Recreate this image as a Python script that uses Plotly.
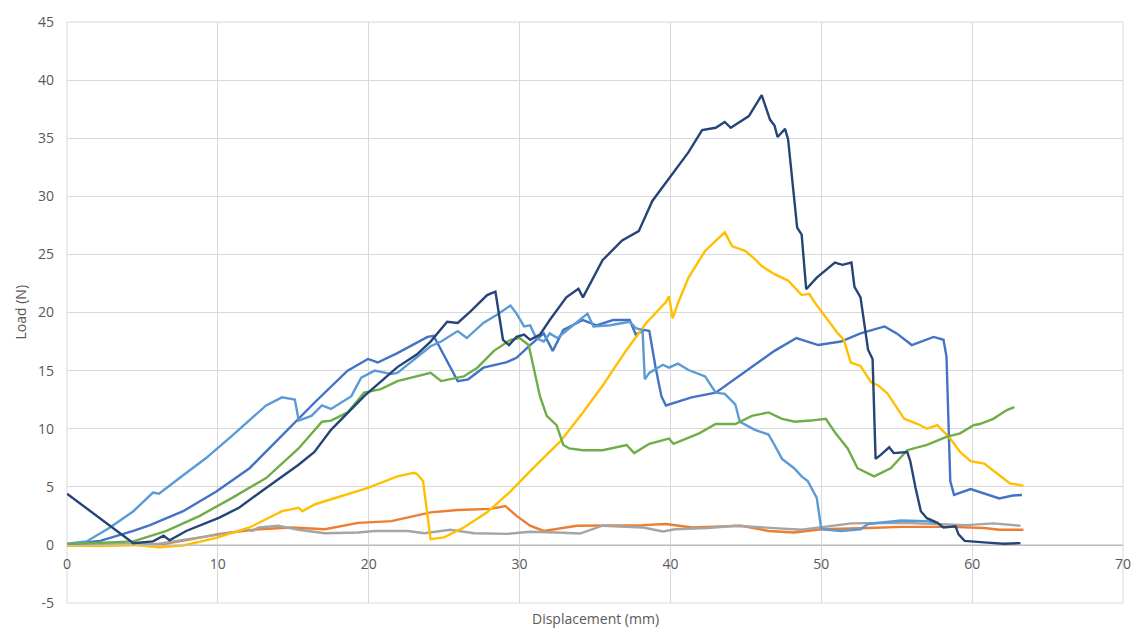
import plotly.graph_objects as go

# Load-displacement curves for seven specimens (displacement in mm, load in N)
disp_s1 = [0, 2.2, 4.4, 5.5, 7.7, 9.9, 12.1, 14.25, 16.45, 18.6, 19.95, 20.6, 21.9, 23.9, 24.3,
           25.9, 26.6, 27.6, 29.1, 29.8, 30.7, 31.6, 32.2, 32.9, 34.2, 35.1, 36.2, 37.3, 37.7,
           38.3, 38.6, 39.0, 39.4, 39.7, 41.4, 43.0, 45.2, 46.9, 48.35, 49.8, 51.3, 52.6, 54.2,
           55.0, 56.0, 57.45, 58.1, 58.3, 58.55, 58.8, 59.9, 61.0, 61.8, 62.7, 63.3]
load_s1 = [0.05, 0.35, 1.2, 1.7, 2.9, 4.6, 6.6, 9.4, 12.3, 15.0, 16.0, 15.7, 16.5, 17.9, 18.0,
           14.1, 14.25, 15.25, 15.7, 16.1, 17.2, 18.2, 16.7, 18.5, 19.35, 18.9, 19.35, 19.35, 18.1,
           18.5, 18.4, 15.4, 12.8, 12.0, 12.7, 13.1, 15.1, 16.7, 17.8, 17.2, 17.5, 18.2, 18.8,
           18.2, 17.2, 17.9, 17.65, 16.2, 5.5, 4.3, 4.8, 4.3, 4.0, 4.25, 4.3]

disp_s2 = [0, 6.1, 8.3, 10.1, 12.7, 14.9, 17.1, 19.3, 21.5, 23.2, 24.1, 25.9, 28.1, 29.05, 29.8,
           30.7, 31.6, 33.8, 36.0, 38.2, 39.7, 41.45, 44.7, 46.5, 48.2, 50.0, 53.1, 55.3, 58.55,
           60.8, 61.8, 63.4]
load_s2 = [-0.05, 0, 0.5, 0.95, 1.35, 1.5, 1.35, 1.9, 2.05, 2.5, 2.8, 3.0, 3.1, 3.35, 2.5,
           1.65, 1.2, 1.65, 1.65, 1.7, 1.8, 1.5, 1.65, 1.2, 1.07, 1.35, 1.45, 1.55, 1.55,
           1.45, 1.3, 1.3]

disp_s3 = [0, 6.1, 8.8, 11.0, 11.85, 12.3, 12.7, 14.0, 15.35, 17.1, 19.3, 20.4, 22.6, 23.7, 25.4,
           27.0, 29.2, 30.7, 32.45, 34.0, 35.5, 38.2, 39.5, 40.3, 42.5, 44.3, 48.7, 52.0, 55.3,
           59.6, 61.4, 63.2]
load_s3 = [0, 0.1, 0.65, 1.07, 1.35, 1.2, 1.5, 1.65, 1.3, 1.0, 1.07, 1.2, 1.2, 1.0, 1.3,
           1.0, 0.95, 1.13, 1.07, 0.98, 1.65, 1.5, 1.15, 1.35, 1.45, 1.65, 1.3, 1.85, 1.9,
           1.7, 1.85, 1.65]

disp_s4 = [0, 2.2, 4.4, 6.1, 7.7, 9.9, 12.1, 14.25, 15.35, 15.6, 16.45, 18.6, 19.95, 21.9, 23.0,
           23.2, 23.6, 24.1, 25.0, 26.3, 27.85, 29.4, 30.9, 32.7, 34.2, 35.5, 37.1, 38.4, 39.7,
           39.9, 40.15, 40.5, 41.2, 42.3, 43.0, 43.6, 44.1, 44.95, 45.6, 46.05, 46.9, 47.8, 48.7,
           49.2, 49.6, 51.1, 51.5, 51.95, 52.6, 53.3, 53.8, 54.4, 55.5, 56.4, 57.0, 57.7, 58.55,
           59.2, 59.9, 60.8, 61.8, 62.5, 63.4]
load_s4 = [-0.05, -0.1, 0, -0.2, -0.05, 0.6, 1.5, 2.9, 3.2, 2.9, 3.5, 4.35, 4.9, 5.9, 6.2,
           6.1, 5.5, 0.5, 0.65, 1.5, 2.8, 4.6, 6.6, 8.9, 11.4, 13.7, 16.8, 19.1, 20.9,
           21.4, 19.5, 20.8, 23.0, 25.3, 26.2, 26.9, 25.7, 25.3, 24.6, 24.0, 23.3, 22.75, 21.5,
           21.6, 20.8, 18.2, 17.65, 15.7, 15.4, 14.0, 13.7, 13.0, 10.85, 10.4, 10.0, 10.3, 9.15,
           8.0, 7.2, 7.0, 6.0, 5.3, 5.1]

disp_s5 = [0, 1.3, 2.85, 4.4, 5.7, 6.1, 7.7, 9.2, 10.95, 12.3, 13.2, 14.25, 15.1, 15.25, 15.35,
           16.2, 16.9, 17.5, 18.85, 19.5, 20.4, 21.5, 21.9, 24.1, 24.8, 25.9, 26.5, 27.6, 28.5,
           29.4, 29.8, 30.3, 30.7, 31.1, 31.6, 32.0, 32.5, 33.55, 34.5, 34.9, 36.0, 37.3, 37.7,
           38.15, 38.3, 38.6, 39.5, 39.9, 40.5, 41.2, 42.3, 43.0, 43.6, 44.3, 44.6, 45.6, 46.5,
           46.9, 47.4, 48.2, 48.7, 49.1, 49.7, 50.0, 51.3, 52.6, 53.1, 55.3, 57.0, 57.6]
load_s5 = [0.1, 0.3, 1.5, 2.9, 4.5, 4.4, 6.0, 7.45, 9.4, 11.0, 12.0, 12.7, 12.5, 11.5, 10.7,
           11.1, 12.0, 11.7, 12.8, 14.4, 15.0, 14.7, 14.8, 17.1, 17.5, 18.4, 17.8, 19.1, 19.8,
           20.6, 19.9, 18.8, 18.9, 17.8, 17.5, 18.2, 17.8, 18.9, 19.9, 18.8, 18.9, 19.2, 18.65,
           18.5, 14.25, 14.8, 15.5, 15.25, 15.6, 15.05, 14.5, 13.1, 13.0, 12.1, 10.6, 9.9, 9.5,
           8.6, 7.4, 6.6, 5.9, 5.5, 4.05, 1.35, 1.2, 1.35, 1.8, 2.1, 2.05, 1.9]

disp_s6 = [0, 4.4, 6.6, 8.8, 10.95, 13.2, 15.35, 16.9, 17.5, 18.6, 19.7, 20.8, 21.9, 23.9, 24.1,
           24.8, 26.3, 27.2, 28.3, 29.4, 30.0, 30.6, 30.9, 31.35, 31.8, 32.45, 32.9, 33.3, 34.2,
           35.5, 37.1, 37.6, 38.6, 39.9, 40.2, 41.9, 43.0, 44.3, 45.4, 46.5, 47.4, 48.25, 49.3,
           50.3, 50.9, 51.75, 52.4, 53.5, 54.6, 55.7, 57.0, 58.3, 59.2, 60.1, 60.5, 61.4, 62.3, 62.8]
load_s6 = [0.05, 0.3, 1.2, 2.5, 4.05, 5.75, 8.3, 10.6, 10.7, 11.4, 13.1, 13.4, 14.1, 14.7, 14.8,
           14.1, 14.5, 15.25, 16.7, 17.65, 17.8, 17.2, 15.4, 12.8, 11.1, 10.3, 8.6, 8.3, 8.15,
           8.15, 8.6, 7.9, 8.7, 9.15, 8.7, 9.6, 10.4, 10.4, 11.1, 11.4, 10.85, 10.6, 10.7,
           10.85, 9.7, 8.3, 6.6, 5.9, 6.6, 8.15, 8.6, 9.3, 9.6, 10.3, 10.4, 10.85, 11.6, 11.85]

disp_s7 = [0, 4.4, 5.7, 6.4, 6.8, 7.9, 10.1, 11.4, 13.2, 15.35, 16.4, 17.5, 19.7, 21.9, 23.2,
           24.1, 25.2, 25.9, 26.75, 27.85, 28.4, 28.9, 29.3, 29.8, 30.3, 30.7, 31.35, 32.0, 33.1,
           33.9, 34.2, 35.5, 36.8, 37.9, 38.8, 39.9, 41.2, 42.1, 43.0, 43.6, 44.0, 45.2, 46.05,
           46.6, 46.9, 47.1, 47.6, 47.8, 48.4, 48.7, 49.0, 49.7, 50.9, 51.4, 52.0, 52.2, 52.6,
           53.1, 53.4, 53.6, 53.9, 54.5, 54.8, 55.7, 55.9, 56.25, 56.6, 57.0, 57.7, 58.1, 58.9,
           59.1, 59.5, 61.0, 62.1, 63.2]
load_s7 = [4.4, 0.15, 0.3, 0.8, 0.4, 1.2, 2.35, 3.2, 4.9, 6.9, 8.0, 9.9, 12.8, 15.3, 16.4,
           17.5, 19.2, 19.1, 20.1, 21.5, 21.8, 17.65, 17.2, 17.9, 18.1, 17.65, 18.1, 19.35, 21.3,
           22.05, 21.3, 24.5, 26.2, 27.0, 29.6, 31.5, 33.8, 35.7, 35.9, 36.4, 35.9, 36.9, 38.7,
           36.6, 36.1, 35.1, 35.8, 34.9, 27.3, 26.7, 22.0, 23.0, 24.3, 24.1, 24.3, 22.2, 21.3,
           16.8, 16.0, 7.4, 7.7, 8.4, 7.9, 8.0, 7.2, 4.9, 2.9, 2.3, 1.9, 1.5, 1.6,
           0.9, 0.35, 0.2, 0.1, 0.15]

x_ticks = [0, 10, 20, 30, 40, 50, 60, 70]
y_ticks = [-5, 0, 5, 10, 15, 20, 25, 30, 35, 40, 45]
y_tick_labels = ["-5", "0", "5", "10", "15", "20", "25", "30", "35", "40", "45"]

series = [
    (disp_s1, load_s1, "#4472C4"),
    (disp_s2, load_s2, "#ED7D31"),
    (disp_s3, load_s3, "#A5A5A5"),
    (disp_s4, load_s4, "#FFC000"),
    (disp_s5, load_s5, "#5B9BD5"),
    (disp_s6, load_s6, "#70AD47"),
    (disp_s7, load_s7, "#264478"),
]

fig = go.Figure()
for xs, ys, col in series:
    fig.add_trace(go.Scatter(x=xs, y=ys, mode="lines",
                             line=dict(color=col, width=2.4), showlegend=False))

font = dict(family="Open Sans", size=14, color="#595959")
grid = "#D9D9D9"

fig.update_layout(
    width=1143, height=630,
    margin=dict(l=67, r=12, t=16, b=27),
    paper_bgcolor="white", plot_bgcolor="white",
    font=font,
    xaxis=dict(range=[0, 70], tickvals=x_ticks, showgrid=True, gridcolor=grid, gridwidth=1,
               zeroline=False, anchor="free", position=0.1,
               showline=True, linecolor="#BFBFBF", linewidth=1,
               ticks="", ticklabelstandoff=6, tickfont=font),
    yaxis=dict(range=[-5, 45], tickvals=y_ticks, ticktext=y_tick_labels,
               showgrid=True, gridcolor=grid, gridwidth=1,
               zeroline=False, showline=False,
               ticks="", ticklabelstandoff=12, tickfont=font),
    shapes=[dict(type="rect", xref="paper", yref="paper", x0=0, y0=0, x1=1, y1=1,
                 line=dict(color=grid, width=1), layer="below")],
    annotations=[
        dict(text="Load (N)", xref="paper", yref="paper", x=0, y=0.5, xshift=-47,
             textangle=-90, showarrow=False, font=font, xanchor="center", yanchor="middle"),
        dict(text="Displacement (mm)", xref="paper", yref="paper", x=0.5, y=0, yshift=-15,
             showarrow=False, font=font, xanchor="center", yanchor="middle"),
    ],
)

fig.write_html("out.html")
